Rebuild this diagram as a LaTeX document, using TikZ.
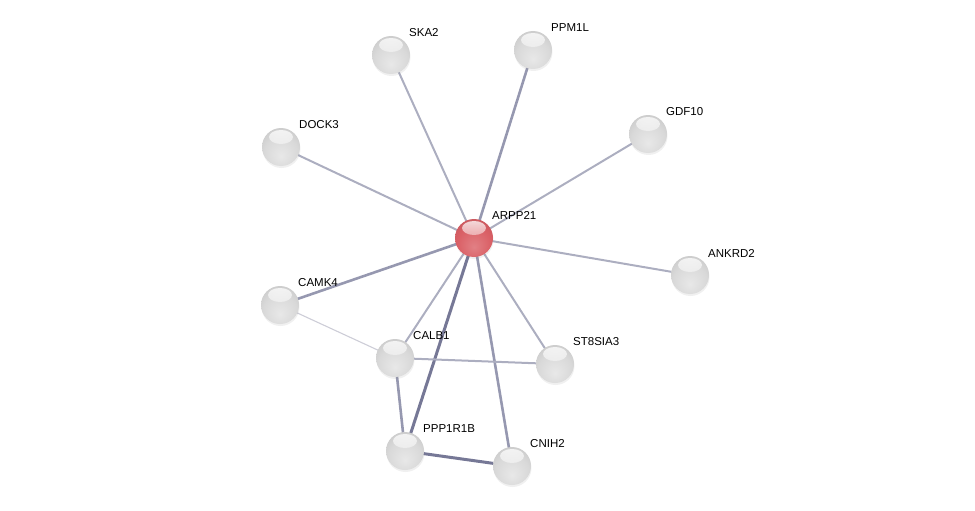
\documentclass[tikz,border=0pt]{standalone}
\usepackage{fontspec}
\setmainfont{Liberation Sans}
\usepackage{tikz}
\usetikzlibrary{positioning,calc,shadings,fadings,shadows}
\definecolor{EdgeLight}{RGB}{172,174,192}
\definecolor{EdgeMid}{RGB}{150,152,176}
\definecolor{EdgeDark}{RGB}{118,120,150}
\definecolor{EdgeFaint}{RGB}{205,205,215}
\definecolor{QueryRed}{RGB}{218,96,102}
\pgfdeclareradialshading{greyball}{\pgfpoint{0bp}{-12bp}}{color(0bp)=(gray!18); color(22bp)=(gray!30); color(40bp)=(gray!48); color(56bp)=(gray!72); color(66bp)=(gray!80)}
\pgfdeclareradialshading{redball}{\pgfpoint{0bp}{-12bp}}{color(0bp)=(QueryRed!80!white); color(22bp)=(QueryRed); color(40bp)=(QueryRed!88!black); color(56bp)=(QueryRed!68!black); color(66bp)=(QueryRed!60!black)}

\begin{document}
\begin{tikzpicture}[
    x=1pt,y=-1pt,
    protein/.style={circle, minimum size=38pt, inner sep=0pt, shading=greyball,
      drop shadow={opacity=0.12, shadow xshift=0.5pt, shadow yshift=-2pt},
      path picture={\fill[white, path fading=south, opacity=0.8]
        ($(path picture bounding box.north)+(0,-9pt)$) ellipse [x radius=12pt, y radius=7pt];}},
    query/.style={protein, shading=redball},
    lab/.style={anchor=west, font=\fontsize{11.5}{13}\selectfont, inner sep=1pt},
    edge/.style={line width=2pt, draw=EdgeLight},
    strong/.style={line width=2.6pt, draw=EdgeMid},
    heavy/.style={line width=3pt, draw=EdgeDark},
    faint/.style={line width=1.1pt, draw=EdgeFaint}
  ]
    \useasboundingbox (0,0) rectangle (975,511);
    % edges first, spheres on top
    \coordinate (pARPP21) at (474,238);
    \foreach \x/\y/\name in {391/55/SKA2,533/50/PPM1L,648/134/GDF10,281/147/DOCK3,690/275/ANKRD2,280/305/CAMK4,395/358/CALB1,555/364/ST8SIA3,405/451/PPP1R1B,512/466/CNIH2} {
      \coordinate (p\name) at (\x,\y);
    }
    \foreach \a/\b/\s in {ARPP21/SKA2/edge,ARPP21/PPM1L/strong,ARPP21/GDF10/edge,ARPP21/DOCK3/edge,ARPP21/ANKRD2/edge,ARPP21/CAMK4/strong,ARPP21/CALB1/edge,ARPP21/ST8SIA3/edge,ARPP21/PPP1R1B/heavy,ARPP21/CNIH2/strong,CAMK4/CALB1/faint,CALB1/ST8SIA3/edge,CALB1/PPP1R1B/strong,PPP1R1B/CNIH2/heavy} {
      \draw[\s] (p\a) -- (p\b);
    }
    \node[query] (ARPP21) at (pARPP21) {};
    \node[lab] (ARPP21-lab) at (491,215) {ARPP21};
    \foreach \name in {SKA2,PPM1L,GDF10,DOCK3,ANKRD2,CAMK4,CALB1,ST8SIA3,PPP1R1B,CNIH2} {
      \node[protein] (\name) at (p\name) {};
      \node[lab] (\name-lab) at ($(p\name)+(17,-22)$) {\name};
    }
  \end{tikzpicture}
\end{document}
